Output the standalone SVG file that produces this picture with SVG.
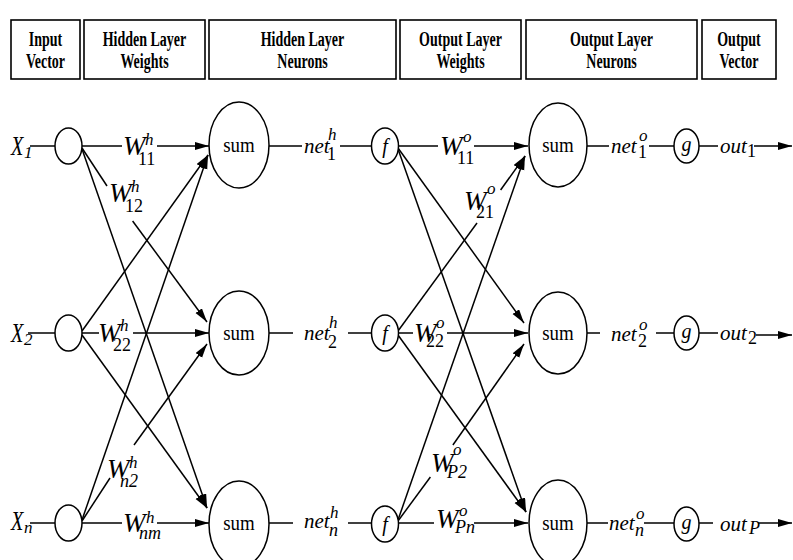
<svg xmlns="http://www.w3.org/2000/svg" width="793" height="560" viewBox="0 0 793 560">
  <defs>
    <marker id="ah" markerUnits="userSpaceOnUse" markerWidth="16" markerHeight="10" refX="14" refY="4" orient="auto">
      <path d="M0,0 L14,4 L0,8 z" fill="#000"/>
    </marker>
    <style>
      .box { fill:#fff; stroke:#000; stroke-width:1.6; }
      .hd { font-weight:bold; font-size:20px; text-anchor:middle; fill:#000; }
      .ln { stroke:#000; stroke-width:1.5; fill:none; }
      .ar { marker-end:url(#ah); }
      .nd { fill:#fff; stroke:#000; stroke-width:1.5; }
      .it { font-style:italic; fill:#000; }
      .rm { font-style:normal; fill:#000; }
      .W { font-size:27px; }
      .sp { font-size:17px; }
      .sb { font-size:18px; }
      .lbl { font-size:21px; }
      .sum { font-size:21px; text-anchor:middle; }
      .fn { font-size:20px; text-anchor:middle; }
    </style>
  </defs>
  <rect width="793" height="560" fill="#fff"/>

  <g font-family="Liberation Serif, Times New Roman, Tinos, DejaVu Serif, serif">
  <!-- column headers -->
  <g id="headers">
    <rect class="box" x="11" y="20" width="69" height="59"/>
    <text class="hd" transform="matrix(0.7 0 0 1 45.5 45.5)">Input</text>
    <text class="hd" transform="matrix(0.7 0 0 1 45.5 68)">Vector</text>
    <rect class="box" x="84" y="20" width="121" height="59"/>
    <text class="hd" transform="matrix(0.7 0 0 1 144.5 45.5)">Hidden Layer</text>
    <text class="hd" transform="matrix(0.7 0 0 1 144.5 68)">Weights</text>
    <rect class="box" x="209" y="20" width="187" height="59"/>
    <text class="hd" transform="matrix(0.7 0 0 1 302.5 45.5)">Hidden Layer</text>
    <text class="hd" transform="matrix(0.7 0 0 1 302.5 68)">Neurons</text>
    <rect class="box" x="400" y="20" width="121" height="59"/>
    <text class="hd" transform="matrix(0.7 0 0 1 460.5 45.5)">Output Layer</text>
    <text class="hd" transform="matrix(0.7 0 0 1 460.5 68)">Weights</text>
    <rect class="box" x="526" y="20" width="171" height="59"/>
    <text class="hd" transform="matrix(0.7 0 0 1 611.5 45.5)">Output Layer</text>
    <text class="hd" transform="matrix(0.7 0 0 1 611.5 68)">Neurons</text>
    <rect class="box" x="702" y="20" width="74" height="59"/>
    <text class="hd" transform="matrix(0.7 0 0 1 739 45.5)">Output</text>
    <text class="hd" transform="matrix(0.7 0 0 1 739 68)">Vector</text>
  </g>

  <!-- connectors -->
  <g id="connectors">
    <!-- inputs to input units -->
    <line class="ln" x1="30" y1="146" x2="55" y2="146"/>
    <line class="ln" x1="28" y1="333" x2="55" y2="333"/>
    <line class="ln" x1="30" y1="523" x2="55" y2="523"/>

    <!-- hidden layer weights -->
    <line class="ln" x1="82" y1="146" x2="122" y2="146"/>
    <line class="ln ar" x1="157" y1="146" x2="209" y2="146"/>
    <line class="ln" x1="82" y1="148" x2="107" y2="186"/>
    <line class="ln ar" x1="132.6" y1="221" x2="207" y2="322"/>
    <line class="ln ar" x1="82" y1="149" x2="207" y2="508"/>

    <line class="ln ar" x1="82" y1="331" x2="208" y2="155"/>
    <line class="ln" x1="82" y1="333" x2="99" y2="333"/>
    <line class="ln ar" x1="133" y1="333" x2="209" y2="333"/>
    <line class="ln ar" x1="82" y1="335" x2="207" y2="508"/>

    <line class="ln ar" x1="82" y1="520" x2="208" y2="155"/>
    <line class="ln" x1="82" y1="521" x2="110" y2="478"/>
    <line class="ln ar" x1="134" y1="445" x2="207" y2="344"/>
    <line class="ln" x1="82" y1="523" x2="122" y2="523"/>
    <line class="ln ar" x1="157" y1="523" x2="209" y2="523"/>

    <!-- hidden sums to activations -->
    <line class="ln" x1="269" y1="146" x2="302" y2="146"/>
    <line class="ln" x1="340" y1="146" x2="371.5" y2="146"/>
    <line class="ln" x1="269" y1="333" x2="293" y2="333"/>
    <line class="ln" x1="348" y1="333" x2="371.5" y2="333"/>
    <line class="ln" x1="269" y1="523" x2="293" y2="523"/>
    <line class="ln" x1="348" y1="523" x2="371.5" y2="523"/>

    <!-- output layer weights -->
    <line class="ln" x1="398.5" y1="146" x2="438" y2="146"/>
    <line class="ln ar" x1="474" y1="146" x2="528" y2="146"/>
    <line class="ln ar" x1="398" y1="148" x2="524" y2="323"/>
    <line class="ln ar" x1="398" y1="149" x2="526" y2="512"/>

    <line class="ln" x1="398" y1="331" x2="477" y2="223"/>
    <line class="ln ar" x1="500.6" y1="190" x2="525" y2="156"/>
    <line class="ln" x1="398.5" y1="333" x2="413" y2="333"/>
    <line class="ln ar" x1="447" y1="333" x2="528" y2="333"/>
    <line class="ln ar" x1="398" y1="335" x2="526" y2="512"/>

    <line class="ln ar" x1="398" y1="520" x2="525" y2="156"/>
    <line class="ln" x1="398" y1="521" x2="430.4" y2="477"/>
    <line class="ln ar" x1="452.9" y1="445" x2="524" y2="344"/>
    <line class="ln" x1="399" y1="523" x2="434" y2="523"/>
    <line class="ln ar" x1="474" y1="523" x2="528" y2="523"/>

    <!-- output sums to outputs -->
    <line class="ln" x1="587" y1="146" x2="609" y2="146"/>
    <line class="ln" x1="649" y1="146" x2="674" y2="146"/>
    <line class="ln" x1="699" y1="146" x2="718" y2="146"/>
    <line class="ln ar" x1="754" y1="146" x2="792" y2="146"/>

    <line class="ln" x1="587" y1="333" x2="600" y2="333"/>
    <line class="ln" x1="656" y1="333" x2="674" y2="333"/>
    <line class="ln" x1="699" y1="333" x2="718" y2="333"/>
    <line class="ln ar" x1="756" y1="335" x2="792" y2="335"/>

    <line class="ln" x1="587" y1="523" x2="608" y2="523"/>
    <line class="ln" x1="644" y1="523" x2="674" y2="523"/>
    <line class="ln" x1="699" y1="523" x2="713" y2="523"/>
    <line class="ln ar" x1="758" y1="523" x2="792" y2="523"/>
  </g>

  <!-- connector labels -->
  <g id="labels">
    <!-- inputs -->
    <g transform="translate(11 155)"><text class="it W" transform="scale(0.75 1)">X</text><text class="it sp" x="13" y="3">1</text></g>
    <g transform="translate(11 342)"><text class="it W" transform="scale(0.75 1)">X</text><text class="it sp" x="13" y="3">2</text></g>
    <g transform="translate(11 530)"><text class="it W" transform="scale(0.75 1)">X</text><text class="it sp" x="13" y="3">n</text></g>

    <!-- hidden weights -->
    <g transform="translate(123 155)"><text class="it W">W</text><text class="it sp" x="22" y="-10">h</text><text class="rm sb" x="15" y="10">11</text></g>
    <g transform="translate(109 202)"><text class="it W">W</text><text class="it sp" x="22" y="-10">h</text><text class="rm sb" x="16" y="10">12</text></g>
    <g transform="translate(98 342)"><text class="it W">W</text><text class="it sp" x="22" y="-11">h</text><text class="rm sb" x="15" y="9">22</text></g>
    <g transform="translate(107 478)"><text class="it W">W</text><text class="it sp" x="22" y="-10">h</text><text class="it sb" x="13" y="9">n2</text></g>
    <g transform="translate(123 532)"><text class="it W">W</text><text class="it sp" x="23" y="-9">h</text><text class="it sb" x="16" y="7">nm</text></g>

    <!-- hidden nets -->
    <g transform="translate(304 153)"><text class="it lbl">net</text><text class="it sp" x="24" y="-13">h</text><text class="rm sb" x="23" y="7">1</text></g>
    <g transform="translate(304 340)"><text class="it lbl">net</text><text class="it sp" x="25" y="-12">h</text><text class="rm sb" x="24" y="8">2</text></g>
    <g transform="translate(304 528)"><text class="it lbl">net</text><text class="it sp" x="26" y="-10">h</text><text class="it sb" x="25" y="8">n</text></g>

    <!-- output weights -->
    <g transform="translate(440 155)"><text class="it W">W</text><text class="it sp" x="23" y="-13">o</text><text class="rm sb" x="17" y="9">11</text></g>
    <g transform="translate(464 210)"><text class="it W">W</text><text class="it sp" x="23" y="-16">o</text><text class="rm sb" x="12" y="8">21</text></g>
    <g transform="translate(414 342)"><text class="it W">W</text><text class="it sp" x="22" y="-14">o</text><text class="rm sb" x="12" y="5">22</text></g>
    <g transform="translate(431 472)"><text class="it W">W</text><text class="it sp" x="22" y="-17">o</text><text class="it sb" x="16" y="6">P2</text></g>
    <g transform="translate(436 528)"><text class="it W">W</text><text class="it sp" x="23" y="-12">o</text><text class="it sb" x="19" y="5">Pn</text></g>

    <!-- output nets -->
    <g transform="translate(611 153)"><text class="it lbl">net</text><text class="it sp" x="28" y="-12">o</text><text class="rm sb" x="27" y="5">1</text></g>
    <g transform="translate(611 341)"><text class="it lbl">net</text><text class="it sp" x="28" y="-11">o</text><text class="rm sb" x="27" y="6">2</text></g>
    <g transform="translate(609 530)"><text class="it lbl">net</text><text class="it sp" x="27" y="-11">o</text><text class="it sb" x="26" y="6">n</text></g>

    <!-- outputs -->
    <g transform="translate(720 153)"><text class="it lbl">out</text><text class="rm sb" x="27" y="4">1</text></g>
    <g transform="translate(720 340)"><text class="it lbl">out</text><text class="rm sb" x="28" y="4">2</text></g>
    <g transform="translate(720 531)"><text class="it lbl">out</text><text class="it sb" x="29" y="3">P</text></g>
  </g>

  <!-- input units -->
  <g id="in1"><ellipse class="nd" cx="68.5" cy="146" rx="13.5" ry="18"/></g>
  <g id="in2"><ellipse class="nd" cx="68.5" cy="333" rx="13.5" ry="18"/></g>
  <g id="in3"><ellipse class="nd" cx="68.5" cy="523" rx="13.5" ry="18"/></g>

  <!-- hidden summing neurons -->
  <g id="hsum1"><ellipse class="nd" cx="239" cy="145" rx="30" ry="43"/><text class="rm sum" transform="matrix(0.9 0 0 1 239 152)">sum</text></g>
  <g id="hsum2"><ellipse class="nd" cx="239" cy="333" rx="30" ry="42"/><text class="rm sum" transform="matrix(0.9 0 0 1 239 340)">sum</text></g>
  <g id="hsum3"><ellipse class="nd" cx="239" cy="524" rx="30" ry="43"/><text class="rm sum" transform="matrix(0.9 0 0 1 239 530)">sum</text></g>

  <!-- hidden activations -->
  <g id="f1"><ellipse class="nd" cx="385" cy="146" rx="13.5" ry="18"/><text class="it fn" x="385" y="153">f</text></g>
  <g id="f2"><ellipse class="nd" cx="385" cy="333" rx="13.5" ry="18"/><text class="it fn" x="385" y="340">f</text></g>
  <g id="f3"><ellipse class="nd" cx="385" cy="524" rx="13.5" ry="18"/><text class="it fn" x="385" y="531">f</text></g>

  <!-- output summing neurons -->
  <g id="osum1"><ellipse class="nd" cx="558" cy="145" rx="29" ry="42"/><text class="rm sum" transform="matrix(0.9 0 0 1 558 152)">sum</text></g>
  <g id="osum2"><ellipse class="nd" cx="558" cy="333" rx="29" ry="41"/><text class="rm sum" transform="matrix(0.9 0 0 1 558 340)">sum</text></g>
  <g id="osum3"><ellipse class="nd" cx="558" cy="523" rx="29" ry="43"/><text class="rm sum" transform="matrix(0.9 0 0 1 558 530)">sum</text></g>

  <!-- output activations -->
  <g id="g1"><ellipse class="nd" cx="686.5" cy="146" rx="12.5" ry="17"/><text class="it fn" x="686.5" y="151">g</text></g>
  <g id="g2"><ellipse class="nd" cx="686.5" cy="333" rx="12.5" ry="17"/><text class="it fn" x="686.5" y="338">g</text></g>
  <g id="g3"><ellipse class="nd" cx="686.5" cy="524" rx="12.5" ry="17"/><text class="it fn" x="686.5" y="529">g</text></g>
  </g>
</svg>
